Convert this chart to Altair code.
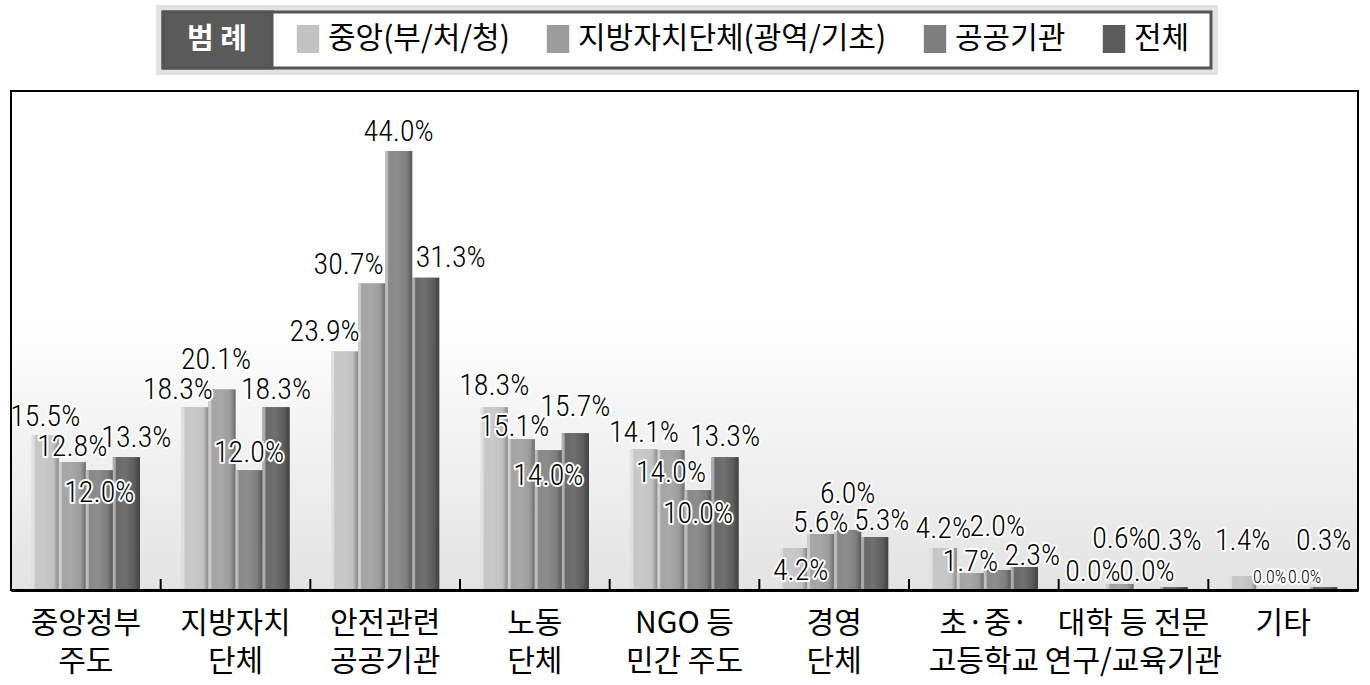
import altair as alt
import pandas as pd

# ---------------- data ----------------
categories = ["중앙정부\n주도", "지방자치\n단체", "안전관련\n공공기관", "노동\n단체",
              "NGO 등\n민간 주도", "경영\n단체", "초·중·\n고등학교",
              "대학 등 전문\n연구/교육기관", "기타"]
series = ["중앙(부/처/청)", "지방자치단체(광역/기초)", "공공기관", "전체"]
central = [15.5, 18.3, 23.9, 18.3, 14.1, 4.2, 4.2, 0.0, 1.4]
local = [12.8, 20.1, 30.7, 15.1, 14.0, 5.6, 1.7, 0.6, 0.0]
public = [12.0, 12.0, 44.0, 14.0, 10.0, 6.0, 2.0, 0.0, 0.0]
total = [13.3, 18.3, 31.3, 15.7, 13.3, 5.3, 2.3, 0.3, 0.3]

# ---------------- label style: pixel nudges (dx, dy) and font size ----------------
label_nudge = [
    [(0, -9), (0, -6), (0, 32), (10, -10)],
    [(-17, -8), (-6, -20), (0, -8), (0, -8)],
    [(-20, -10), (-23, -10), (0, -10), (25, -11)],
    [(0, -12), (-7, -3), (0, 35), (0, -17)],
    [(0, -7), (0, 32), (0, 33), (0, -11)],
    [(7, 32), (0, -2), (0, -27), (7, -7)],
    [(0, -10), (0, -2), (0, -34), (8, -2)],
    [(0, -9), (0, -36), (0, -9), (0, -37)],
    [(0, -26), (0, -7), (8, -7), (0, -37)],
]
label_size = [[30] * 4 for _ in range(8)] + [[30, 18, 18, 30]]

colors = ["#c2c2c2", "#9c9c9c", "#7e7e7e", "#5c5c5c"]

values = [central, local, public, total]
rows = []
for ci, c in enumerate(categories):
    for si, s in enumerate(series):
        v = values[si][ci]
        dx, dy = label_nudge[ci][si]
        fs = label_size[ci][si]
        rows.append({"category": c, "series": s, "value": v,
                     "label": f"{v:.1f}%", "style": f"{dx}|{dy}|{fs}"})
df = pd.DataFrame(rows)

W, H = 1347, 499
NUM_FONT = "Liberation Sans Narrow, Roboto Condensed, DejaVu Sans Condensed, sans-serif"
KR_FONT = "Noto Sans CJK KR"


def mix(hexc, other, t):
    a = [int(hexc[i:i + 2], 16) for i in (1, 3, 5)]
    b = [int(other[i:i + 2], 16) for i in (1, 3, 5)]
    m = [round(a[k] * (1 - t) + b[k] * t) for k in range(3)]
    return "#" + "".join(f"{x:02x}" for x in m)


def grad(c):
    return {
        "gradient": "linear", "x1": 0, "x2": 1, "y1": 0, "y2": 0,
        "stops": [
            {"offset": 0.0, "color": mix(c, "#ffffff", 0.55)},
            {"offset": 0.09, "color": mix(c, "#ffffff", 0.45)},
            {"offset": 0.13, "color": mix(c, "#ffffff", 0.08)},
            {"offset": 0.45, "color": mix(c, "#ffffff", 0.12)},
            {"offset": 0.8, "color": c},
            {"offset": 0.92, "color": mix(c, "#000000", 0.18)},
            {"offset": 1.0, "color": mix(c, "#000000", 0.3)},
        ],
    }


xscale = alt.Scale(domain=categories, paddingInner=0, paddingOuter=0)
xoff_scale = alt.Scale(domain=series, paddingInner=0, paddingOuter=0.77)
yscale = alt.Scale(domain=[0, 50], nice=False)

X = alt.X("category:N", scale=xscale, sort=categories,
          axis=alt.Axis(title=None, labelAngle=0, ticks=False, domain=True,
                        domainColor="black", domainWidth=3,
                        labelExpr="split(datum.label, '\\n')",
                        labelFont=KR_FONT, labelFontSize=30, labelColor="black",
                        labelLineHeight=38, labelPadding=18, labelBaseline="top",
                        labelLimit=0))
XO = alt.XOffset("series:N", scale=xoff_scale, sort=series)
Y = alt.Y("value:Q", scale=yscale,
          axis=alt.Axis(title=None, labels=False, ticks=False, domain=False,
                        grid=True, gridDash=[8, 6], gridColor="#b8b8b8",
                        gridWidth=1, values=[5, 10, 15, 20, 25, 30, 35, 40, 45]))

one = pd.DataFrame({"a": [0]})

bg = alt.Chart(one).mark_rect(fill={
    "gradient": "linear", "x1": 0, "x2": 0, "y1": 0, "y2": 1,
    "stops": [{"offset": 0, "color": "#ffffff"},
              {"offset": 0.45, "color": "#ffffff"},
              {"offset": 1, "color": "#e3e3e3"}]}).encode(
    x=alt.value(0), x2=alt.value(W), y=alt.value(0), y2=alt.value(H))

# legend decoration box
shadow = alt.Chart(one).mark_rect(fill="#e2e2e2").encode(
    x=alt.value(145), x2=alt.value(1207), y=alt.value(-86), y2=alt.value(-16))
box = alt.Chart(one).mark_rect(fill="white", stroke="#555555", strokeWidth=3).encode(
    x=alt.value(152), x2=alt.value(1200), y=alt.value(-79), y2=alt.value(-23))
tbox = alt.Chart(one).mark_rect(fill="#5a5a5a", stroke="#555555", strokeWidth=3).encode(
    x=alt.value(152), x2=alt.value(261), y=alt.value(-79), y2=alt.value(-23))
ttext = alt.Chart(one).mark_text(text="범 례", font=KR_FONT, fontSize=29,
                                 fontWeight="bold", fill="white",
                                 baseline="middle", align="center").encode(
    x=alt.value(206), y=alt.value(-51))

base = alt.Chart(df)

solid = base.mark_bar().encode(
    x=X, xOffset=XO, y=Y,
    color=alt.Color("series:N", sort=series,
                    scale=alt.Scale(domain=series, range=colors),
                    legend=alt.Legend(title=None, orient="none", legendX=282,
                                      legendY=-67, direction="horizontal",
                                      columns=4, symbolType="M-0.8,-1H0.8V1H-0.8Z",
                                      symbolSize=784, symbolStrokeWidth=0,
                                      symbolOpacity=1, labelFont=KR_FONT,
                                      labelFontSize=30, labelColor="black",
                                      labelOffset=5, columnPadding=33,
                                      labelLimit=0, padding=0)))

layers = [bg, shadow, box, tbox, ttext, solid]
for si, s in enumerate(series):
    layers.append(base.transform_filter(alt.datum.series == s)
                  .mark_bar(fill=grad(colors[si]))
                  .encode(x=X, xOffset=XO, y=Y))

ticks = alt.Chart(pd.DataFrame({"category": categories[1:]})).mark_rule(
    color="black", strokeWidth=2).encode(
    x=alt.X("category:N", scale=xscale, sort=categories, bandPosition=0),
    y=alt.value(H - 11), y2=alt.value(H))
layers.append(ticks)

# value labels: white halo pass first, then black text pass
text_layers_halo, text_layers = [], []
for st in sorted(df["style"].unique()):
    dx, dy, fs = (int(t) for t in st.split("|"))
    sub = base.transform_filter(alt.datum.style == st)
    enc = dict(x=X, xOffset=XO, y=Y, text="label:N")
    text_layers_halo.append(sub.mark_text(font=NUM_FONT, fontSize=fs, dx=dx, dy=dy,
                                          fontWeight=300,
                                          baseline="alphabetic", fill="white",
                                          stroke="white", strokeWidth=4,
                                          strokeJoin="round").encode(**enc))
    text_layers.append(sub.mark_text(font=NUM_FONT, fontSize=fs, dx=dx, dy=dy,
                                     fontWeight=300, baseline="alphabetic",
                                     fill="black").encode(**enc))
layers += text_layers_halo + text_layers

frame = alt.Chart(one).mark_rect(fillOpacity=0, stroke="black", strokeWidth=2).encode(
    x=alt.value(0), x2=alt.value(W), y=alt.value(0), y2=alt.value(H))
layers.append(frame)

chart = alt.layer(*layers).properties(
    width=W, height=H,
    padding={"left": 11, "top": 91, "right": 12, "bottom": 95},
    autosize=alt.AutoSizeParams(type="none"),
    background="white",
).configure_view(strokeWidth=0)

chart.save("out.html", embed_options={"renderer": "svg", "actions": False})
